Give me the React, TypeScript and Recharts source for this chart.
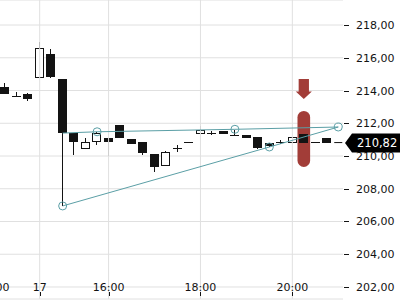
import React from "react";
import { ComposedChart, Bar, Line, XAxis, YAxis, CartesianGrid, ReferenceArea, ReferenceLine } from "recharts";

// 15 minute slots; slot -1 only carries the clipped "20:00" label, slot 29 only the pattern apex
const slots = [-1, 0, 1, 2, 3, 4, 5, 6, 7, 8, 9, 10, 11, 12, 13, 14, 15, 16, 17, 18, 19, 20, 21, 22, 23, 24, 25, 26, 27, 28, 29];

const opens = [null, 214.2, 213.68, 213.79, 214.78, 216.23, 214.7, 211.38, 210.43, 210.85, 211.1, 211.89, 211.04, 210.85, 210.12, 209.39, 210.49, 210.86, 211.34, 211.4, 211.53, 211.3, 211.28, 211.16, 210.79, 210.85, 210.79, 211.34, 210.86, 211.1, null];
const highs = [null, 214.46, 213.9, 213.85, 216.98, 216.53, 214.72, 211.4, 211.1, 211.45, 211.1, 211.89, 211.05, 210.85, 210.12, 210.3, 210.65, 210.86, 211.83, 211.52, 211.53, 211.6, 211.28, 211.16, 210.79, 210.95, 211.16, 211.34, 210.86, 211.1, null];
const lows = [null, 213.79, 213.66, 213.36, 214.78, 214.76, 206.95, 210.06, 210.43, 210.67, 210.0, 211.1, 210.73, 210.06, 209.02, 209.39, 210.25, 210.85, 211.34, 211.28, 211.35, 211.3, 211.1, 210.43, 210.55, 210.75, 210.79, 210.79, 210.85, 210.82, null];
const closes = [null, 213.79, 213.66, 213.48, 216.61, 214.82, 211.38, 210.85, 210.85, 211.4, 210.85, 211.1, 210.73, 210.18, 209.33, 210.24, 210.5, 210.85, 211.59, 211.4, 211.35, 211.3, 211.1, 210.49, 210.61, 210.85, 211.16, 210.79, 210.85, 210.82, null];

// triangle pattern
const upperIdx = [5, 8, 20, 29];
const upperVals = [211.4, 211.48, 211.63, 211.77];
const upperDots = [8, 20, 29];
const lowerIdx = [5, 23, 29];
const lowerVals = [206.95, 210.55, 211.77];
const lowerDots = [5, 23];

const xTickIdx = [-1, 3, 9, 17, 25];
const xTickLabels = ["20:00", "17", "16:00", "18:00", "20:00"];
const yTicks = [202, 204, 206, 208, 210, 212, 214, 216, 218];
const lastPrice = 210.82;

const TEAL = "#5b9fa6";
const RED = "#a23d38";
const INK = "#131313";
const GRID = "#e0e0e0";

const fmt = (v: number) => v.toFixed(2).replace(".", ",");

const data = slots.map((i, k) => ({
  i,
  o: opens[k],
  h: highs[k],
  l: lows[k],
  c: closes[k],
  up: upperIdx.includes(i) ? upperVals[upperIdx.indexOf(i)] : null,
  lo: lowerIdx.includes(i) ? lowerVals[lowerIdx.indexOf(i)] : null,
}));

const Candle = (props: any) => {
  const { x, y, width, height, payload } = props;
  if (payload.o == null) return null;
  const { o, h, l, c } = payload;
  const ppu = height / (h - l);
  const yOf = (v: number) => y + (h - v) * ppu;
  const left = Math.round(x);
  const w = Math.round(width);
  const mid = left + Math.floor(w / 2) + 0.5;
  const top = Math.round(yOf(Math.max(o, c)));
  const bot = Math.round(yOf(Math.min(o, c)));
  const wick = <line x1={mid} x2={mid} y1={Math.round(y)} y2={Math.round(y + height)} stroke={INK} strokeWidth={1} />;
  if (bot - top < 2) {
    return (
      <g>
        {wick}
        <rect x={left} y={top} width={w} height={1} fill={INK} />
      </g>
    );
  }
  if (c >= o) {
    return (
      <g>
        {wick}
        <rect x={left + 0.5} y={top + 0.5} width={w - 1} height={bot - top - 1} fill="#fff" stroke={INK} strokeWidth={1} />
      </g>
    );
  }
  return (
    <g>
      {wick}
      <rect x={left} y={top} width={w} height={bot - top} fill={INK} />
    </g>
  );
};

const patternDot = (list: number[]) => (props: any) => {
  const { cx, cy, payload, index } = props;
  if (!list.includes(payload.i) || cx == null) return <g key={`d${index}`} />;
  return <circle key={`d${index}`} cx={cx} cy={cy} r={4} fill="none" stroke={TEAL} strokeWidth={1} />;
};

const XTick = (props: any) => {
  const { x, y, payload } = props;
  const label = xTickLabels[xTickIdx.indexOf(payload.value)];
  return (
    <g>
      <text x={x} y={y - 8} textAnchor="middle" fontSize={11} fill={INK}>{label}</text>
      <line x1={Math.round(x) + 0.5} x2={Math.round(x) + 0.5} y1={y - 7} y2={y - 3} stroke={INK} />
    </g>
  );
};

// right-hand price scale, drawn from the y scale of a hidden axis
const YLabel = (props: any) => {
  const vb = props.viewBox || {};
  const px = vb.x + vb.width;
  const py = Math.round(vb.y) + 0.5;
  return (
    <g>
      {props.cover && <rect x={px - 1} y={0} width={3} height={300} fill="#fff" />}
      <line x1={px} x2={px + 5} y1={py} y2={py} stroke={INK} />
      <text x={px + 12} y={py} dy="0.36em" fontSize={11} fill={INK}>{props.text}</text>
    </g>
  );
};

const PriceTag = (props: any) => {
  const vb = props.viewBox || {};
  const px = vb.x + vb.width + 1;
  const py = Math.round(vb.y);
  return (
    <g>
      <polygon points={`${px},${py} ${px + 7},${py - 9.5} ${px + 70},${py - 9.5} ${px + 70},${py + 9.5} ${px + 7},${py + 9.5}`} fill="#000" />
      <text x={px + 12} y={py} dy="0.36em" fontSize={11.5} fill="#fff">{fmt(lastPrice)}</text>
    </g>
  );
};

const ArrowShape = (props: any) => {
  const { x, y, width, height } = props;
  const cx = x + width / 2;
  const sw = width * 0.32;
  const hy = y + height * 0.62;
  return (
    <path
      d={`M${cx - sw},${y} L${cx + sw},${y} L${cx + sw},${hy} L${x + width},${hy} L${cx},${y + height} L${x},${hy} L${cx - sw},${hy} Z`}
      fill={RED}
    />
  );
};

const PillShape = (props: any) => {
  const { x, y, width, height } = props;
  return <rect x={x} y={y} width={width} height={height} rx={width / 2} ry={width / 2} fill={RED} />;
};

export default function App() {
  return (
    <div style={{ position: "absolute", left: -12, top: 0 }}>
      <ComposedChart
        width={412}
        height={300}
        data={data}
        margin={{ top: 0, right: 56, bottom: 0, left: 0 }}
        style={{ fontFamily: "DejaVu Sans" }}
      >
        <CartesianGrid stroke={GRID} strokeWidth={1} vertical={false} />
        <XAxis
          dataKey="i"
          type="number"
          domain={[-1.5, 29.5]}
          ticks={xTickIdx}
          interval={0}
          allowDataOverflow
          height={1}
          tickSize={0}
          tickMargin={0}
          axisLine={false}
          tickLine={false}
          tick={<XTick />}
        />
        <YAxis
          hide
          orientation="right"
          type="number"
          domain={[201.267, 219.527]}
          ticks={yTicks}
          allowDataOverflow
        />
        {xTickIdx.map((t) => (
          <ReferenceLine key={`v${t}`} x={t} stroke={GRID} strokeWidth={1} />
        ))}
        <ReferenceArea x1={25.45} x2={26.55} y1={209.33} y2={212.75} shape={<PillShape />} ifOverflow="visible" />
        <ReferenceArea x1={25.3} x2={26.7} y1={213.48} y2={214.7} shape={<ArrowShape />} ifOverflow="visible" />
        <Bar dataKey={(d: any) => (d.o == null ? null : [d.l, d.h])} barSize={9} shape={<Candle />} isAnimationActive={false} />
        <Line dataKey="up" stroke={TEAL} strokeWidth={1} connectNulls dot={patternDot(upperDots)} activeDot={false} isAnimationActive={false} />
        <Line dataKey="lo" stroke={TEAL} strokeWidth={1} connectNulls dot={patternDot(lowerDots)} activeDot={false} isAnimationActive={false} />
        {yTicks.map((t, k) => (
          <ReferenceLine key={`y${t}`} y={t} stroke="none" label={<YLabel text={fmt(t)} cover={k === 0} />} />
        ))}
        <ReferenceLine segment={[{ x: 28.65, y: lastPrice }, { x: 29.35, y: lastPrice }]} stroke={INK} ifOverflow="visible" />
        <ReferenceLine y={lastPrice} stroke="none" label={<PriceTag />} />
      </ComposedChart>
    </div>
  );
}
